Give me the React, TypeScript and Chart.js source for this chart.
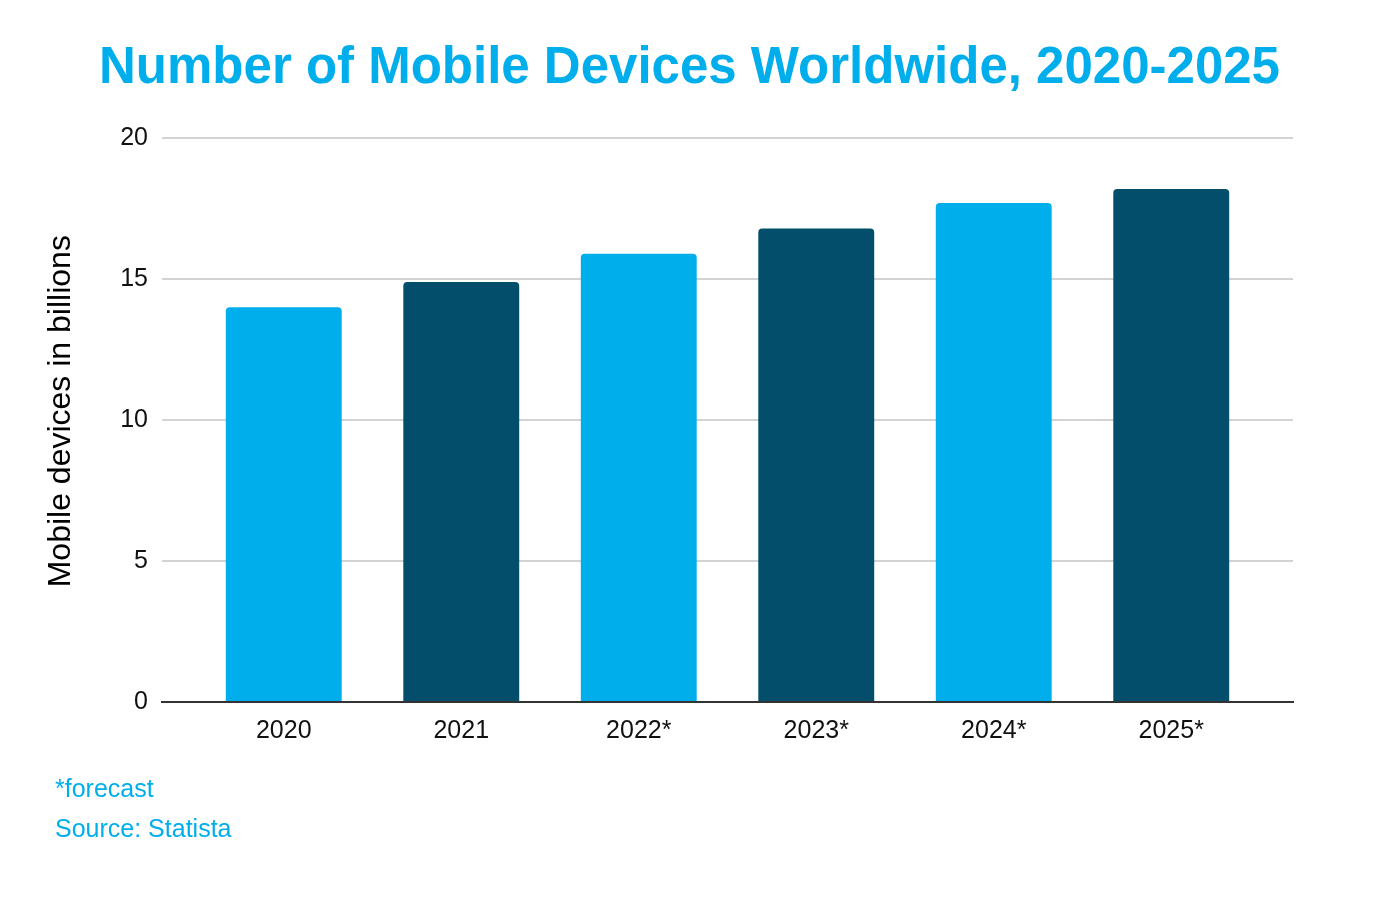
import React, { useEffect, useRef } from "react";
import { Chart, registerables } from "chart.js";

Chart.register(...registerables);

const categories: string[] = ["2020", "2021", "2022*", "2023*", "2024*", "2025*"];
const devicesBillions: number[] = [14.0, 14.9, 15.9, 16.8, 17.7, 18.2];
const barColors: string[] = ["#00AEEB", "#034E6A", "#00AEEB", "#034E6A", "#00AEEB", "#034E6A"];
const titleText = "Number of Mobile Devices Worldwide, 2020-2025";
const yAxisTitle = "Mobile devices in billions";
const footnotes: string[] = ["*forecast", "Source: Statista"];

const FONT = "'Liberation Sans', Arial, Helvetica, sans-serif";
const W = 1379;
const H = 923;

export default function App() {
  const ref = useRef<HTMLCanvasElement | null>(null);

  useEffect(() => {
    document.body.style.margin = "0";
    const canvas = ref.current;
    if (!canvas) return;
    const points = devicesBillions.map((v, i) => ({ x: i, y: v }));
    const chart = new Chart(canvas, {
      type: "bar",
      data: {
        datasets: [
          {
            data: points,
            backgroundColor: barColors,
            borderRadius: 4,
            borderSkipped: "start",
            categoryPercentage: 1,
            barPercentage: 0.653,
          },
        ],
      },
      options: {
        responsive: false,
        animation: false,
        layout: { padding: { left: 0, right: 0, top: 0, bottom: 0 } },
        plugins: {
          legend: { display: false },
          tooltip: { enabled: false },
          title: {
            display: true,
            text: titleText,
            color: "#00AEEB",
            font: { family: FONT, size: 51, weight: "bold", lineHeight: 1.2 },
            padding: { top: 38, bottom: 39 },
          },
        },
        scales: {
          x: {
            type: "linear",
            offset: false,
            min: -0.686,
            max: categories.length - 1 + 0.686,
            grid: { display: false, drawTicks: false, offset: false },
            border: { display: true, color: "#333333", width: 2 },
            afterBuildTicks: (scale: any) => {
              scale.ticks = categories.map((_, i) => ({ value: i }));
            },
            ticks: {
              color: "#111111",
              font: { family: FONT, size: 25 },
              padding: 14,
              autoSkip: false,
              maxRotation: 0,
              callback: (value: any) => categories[Math.round(Number(value))] ?? "",
            },
            afterFit: (scale: any) => {
              scale.height = H - 702;
            },
          },
          y: {
            min: 0,
            max: 20,
            ticks: {
              stepSize: 5,
              color: "#111111",
              font: { family: FONT, size: 25 },
              padding: 14,
            },
            grid: { color: "#D3D3D3", lineWidth: 2, drawTicks: false },
            border: { display: false },
            title: {
              display: true,
              text: "  " + yAxisTitle,
              color: "#000000",
              font: { family: FONT, size: 32, lineHeight: 1.2 },
              padding: { top: 42, bottom: 0 },
            },
            afterFit: (scale: any) => {
              scale.width = 162;
            },
          },
          yRightSpace: {
            type: "linear",
            position: "right",
            display: true,
            grid: { display: false, drawTicks: false },
            border: { display: false },
            ticks: { display: false },
            afterFit: (scale: any) => {
              scale.width = W - 1293;
            },
          },
        },
      },
    });
    return () => chart.destroy();
  }, []);

  return (
    <div style={{ position: "fixed", left: 0, top: 0, width: W, height: H, background: "#ffffff" }}>
      <canvas ref={ref} width={W} height={H} style={{ display: "block" }} />
      {footnotes.map((t, i) => (
        <div
          key={t}
          style={{
            position: "absolute",
            left: 55,
            top: 773 + i * 40,
            height: 30,
            lineHeight: "30px",
            fontFamily: FONT,
            fontSize: 25,
            color: "#00AEEB",
            whiteSpace: "nowrap",
          }}
        >
          {t}
        </div>
      ))}
    </div>
  );
}
